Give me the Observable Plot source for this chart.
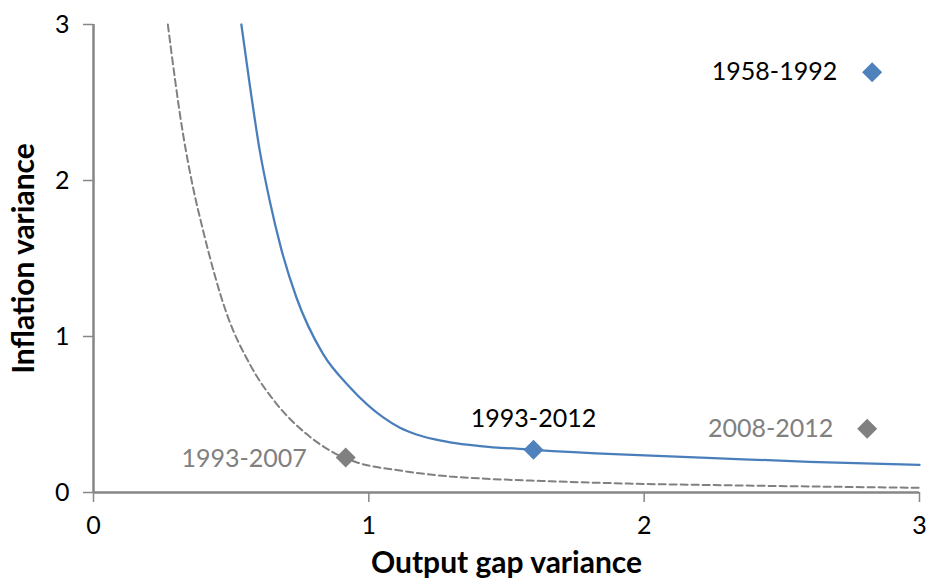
<!DOCTYPE html>
<html>
<head>
<meta charset="utf-8">
<script src="https://cdn.jsdelivr.net/npm/d3@7"></script>
<script src="https://cdn.jsdelivr.net/npm/@observablehq/plot@0.6"></script>
<style>
  html, body { margin: 0; padding: 0; background: #fff; }
  #chart svg { display: block; }
</style>
</head>
<body>
<div id="chart"></div>
<script>
// Efficient frontier, 1993-2012 (solid)
const frontierX = [0.537, 0.567, 0.604, 0.64, 0.682, 0.737, 0.833, 0.931, 1.051, 1.113, 1.173, 1.236, 1.295, 1.404, 1.598, 1.913, 2.23, 2.6, 3.0];
const frontierY = [3.0, 2.62, 2.19, 1.87, 1.56, 1.25, 0.89, 0.675, 0.483, 0.415, 0.372, 0.342, 0.322, 0.298, 0.274, 0.244, 0.222, 0.197, 0.177];
// Efficient frontier, 1993-2007 (dashed)
const frontier2X = [0.270, 0.325, 0.361, 0.398, 0.483, 0.567, 0.664, 0.773, 0.87, 0.955, 1.113, 1.295, 1.428, 1.609, 1.973, 2.353, 3.0];
const frontier2Y = [3.0, 2.30, 1.96, 1.68, 1.15, 0.825, 0.57, 0.376, 0.258, 0.194, 0.141, 0.103, 0.088, 0.075, 0.056, 0.045, 0.030];
// Observed outcomes
const periods = ["1958-1992", "1993-2012", "2008-2012", "1993-2007"];
const outputVar = [2.828, 1.598, 2.81, 0.916];
const inflationVar = [2.694, 0.274, 0.408, 0.224];
// Axis ticks
const xTicks = [0, 1, 2, 3];
const yTicks = [0, 1, 2, 3];
const xTitle = "Output gap variance";
const yTitle = "Inflation variance";

const solid = frontierX.map((x, i) => ({x, y: frontierY[i]}));
const dashed = frontier2X.map((x, i) => ({x, y: frontier2Y[i]}));
const pts = periods.map((p, i) => ({period: p, x: outputVar[i], y: inflationVar[i]}));

const BLUE = "#4A7EBB";
const BLUE_FILL = "#4F81BD";
const GRAY = "#808080";
const isBlue = d => d.period === "1958-1992" || d.period === "1993-2012";
const FONT = "Lato, 'Open Sans', sans-serif";
const AXIS = "#868686";

const chart = Plot.plot({
  width: 933,
  height: 587,
  marginLeft: 93,
  marginRight: 14,
  marginTop: 24,
  marginBottom: 95,
  style: {fontFamily: FONT, background: "#fff", overflow: "visible"},
  x: {domain: [0, 3]},
  y: {domain: [0, 3]},
  marks: [
    Plot.axisX({ticks: xTicks, tickFormat: d3.format("d"), tickSize: 10, tickPadding: 14, fontSize: 25, stroke: AXIS, strokeWidth: 1.5, color: "#000", label: null}),
    Plot.axisY({ticks: yTicks, tickFormat: d3.format("d"), tickSize: 10, tickPadding: 14, fontSize: 25, stroke: AXIS, strokeWidth: 1.5, color: "#000", label: null}),
    Plot.ruleY([0], {stroke: AXIS, strokeWidth: 2.5}),
    Plot.ruleX([0], {stroke: AXIS, strokeWidth: 2.5}),
    Plot.line(dashed, {x: "x", y: "y", stroke: GRAY, strokeWidth: 2, strokeDasharray: "7,4", curve: "monotone-x"}),
    Plot.line(solid, {x: "x", y: "y", stroke: BLUE, strokeWidth: 2.25, curve: "monotone-x"}),
    Plot.dot(pts, {x: "x", y: "y", symbol: "diamond2", r: 9, fill: d => isBlue(d) ? BLUE_FILL : GRAY, stroke: "none"}),
    Plot.text(pts.filter(d => d.period === "1958-1992"), {x: "x", y: "y", text: "period", textAnchor: "end", dx: -35, fontSize: 25, fill: "#000"}),
    Plot.text(pts.filter(d => d.period === "2008-2012"), {x: "x", y: "y", text: "period", textAnchor: "end", dx: -34, fontSize: 25, fill: GRAY}),
    Plot.text(pts.filter(d => d.period === "1993-2007"), {x: "x", y: "y", text: "period", textAnchor: "end", dx: -39, dy: 1, fontSize: 25, fill: GRAY}),
    Plot.text(pts.filter(d => d.period === "1993-2012"), {x: "x", y: "y", text: "period", textAnchor: "middle", dy: -31, fontSize: 25, fill: "#000"}),
    Plot.text([xTitle], {frameAnchor: "bottom", textAnchor: "middle", dy: 80, text: d => d, fontSize: 30, fontWeight: "bold", fill: "#000"}),
    Plot.text([yTitle], {frameAnchor: "left", textAnchor: "middle", dx: -69, rotate: -90, text: d => d, fontSize: 30, fontWeight: "bold", fill: "#000"})
  ]
});
document.getElementById("chart").appendChild(chart);
</script>
</body>
</html>
